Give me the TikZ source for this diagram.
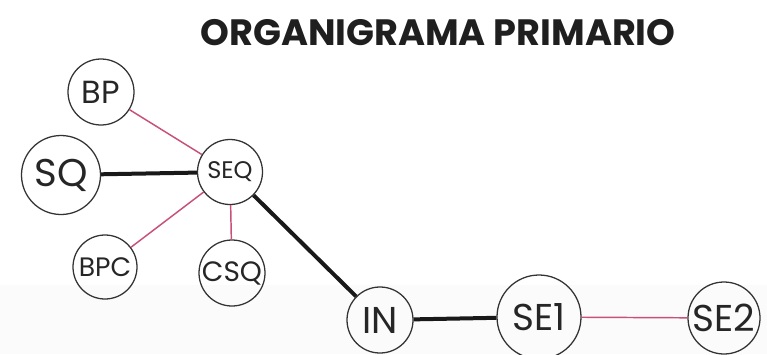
\documentclass[tikz,border=0pt]{standalone}
\usepackage{fontspec}
\setmainfont{Poppins}
\begin{document}
\begin{tikzpicture}[x=0.75pt,y=-0.75pt,
  unit/.style={circle,draw=black!80,line width=0.95pt,inner sep=0pt,
    text=black!85,font=\fontsize{#1}{#1}\selectfont},
  radius px/.style={minimum size=#1*1.5pt},
  strong/.style={line width=3pt,black!90},
  soft/.style={line width=1.1pt,color={rgb,255:red,200;green,80;blue,122}}]
  \clip (0,0) rectangle (767,354);
  \useasboundingbox (0,0) rectangle (767,354);
  \fill[white] (0,0) rectangle (767,354);
  \fill[black!1.5] (0,285) rectangle (767,354);
  % title
  \node[anchor=center,text=black!88,font=\fontsize{27.5}{27.5}\selectfont\bfseries]
    (title) at (438,33) {ORGANIGRAMA PRIMARIO};
  % units
  \node[unit=24,radius px=33] (bp)  at (101,92)  {BP};
  \node[unit=29,radius px=39.5] (sq)  at (61,175)  {SQ};
  \node[unit=18,radius px=32.5] (seq) at (230,172) {SEQ};
  \node[unit=20,radius px=32] (bpc) at (105,267) {BPC};
  \node[unit=21,radius px=33] (csq) at (232,273) {CSQ};
  \node[unit=28,radius px=33] (inn) at (380,320) {IN};
  \node[unit=28,radius px=42] (se1) at (539,317) {SE1};
  \node[unit=28,radius px=36] (se2) at (724,318) {SE2};
  % links
  \draw[strong] (sq) -- (seq);
  \draw[strong] (seq) -- (inn);
  \draw[strong] (inn) -- (se1);
  \draw[soft] (bp) -- (seq);
  \draw[soft] (bpc) -- (seq);
  \draw[soft] (seq) -- (csq);
  \draw[soft] (se1) -- (se2);
\end{tikzpicture}
\end{document}
